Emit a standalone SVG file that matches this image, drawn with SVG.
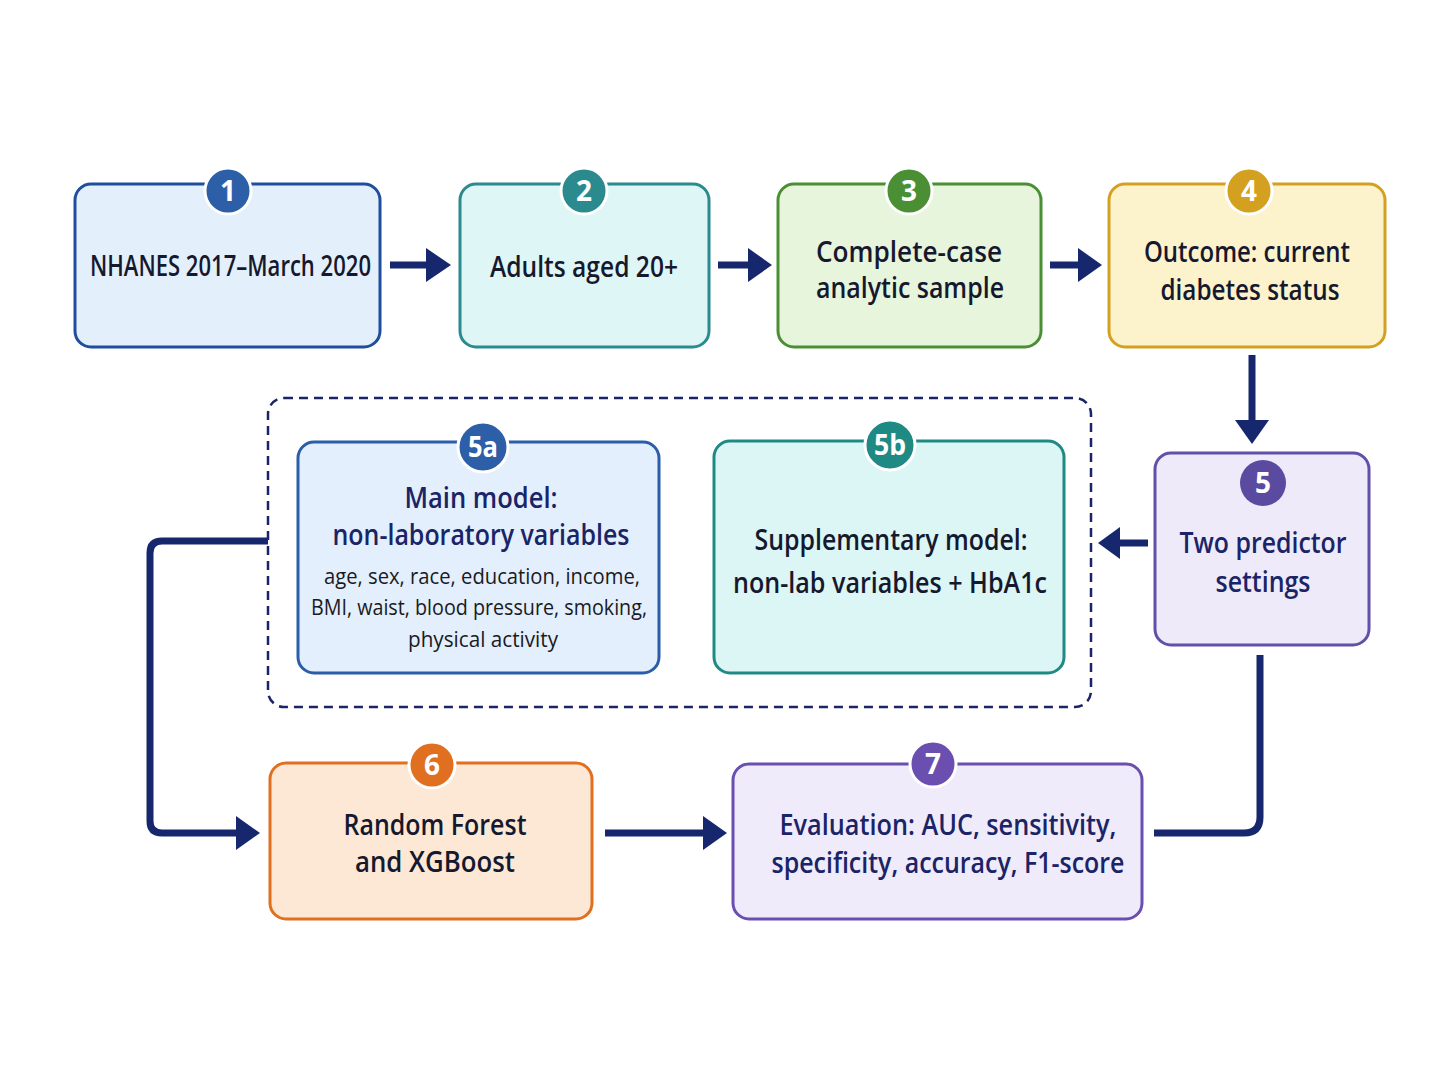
<svg xmlns="http://www.w3.org/2000/svg" width="1448" height="1086" viewBox="0 0 1448 1086">
<defs>
<style>
.t{font-family:"Open Sans","Noto Sans","Liberation Sans",sans-serif;font-size:29px;font-weight:600;text-anchor:middle;fill:#16192e}
.n{fill:#1a2466}
.s{font-family:"Open Sans","Noto Sans","Liberation Sans",sans-serif;font-size:22px;text-anchor:middle;fill:#1a1a22}
.b{font-family:"Open Sans","Noto Sans","Liberation Sans",sans-serif;font-size:28px;font-weight:700;text-anchor:middle;fill:#ffffff}
.box{stroke-width:3}
.badge{stroke:#ffffff;stroke-width:3}
.con{fill:none;stroke:#16276e;stroke-width:7}
.ah{fill:#16276e}
</style>
</defs>
<rect width="1448" height="1086" fill="#ffffff"/>

<g id="connectors">
<line class="con" x1="390" y1="265" x2="428" y2="265"/>
<polygon class="ah" points="426,248 451,265 426,282"/>
<line class="con" x1="718" y1="265" x2="750" y2="265"/>
<polygon class="ah" points="748,248 772,265 748,282"/>
<line class="con" x1="1050" y1="265" x2="1080" y2="265"/>
<polygon class="ah" points="1078,248 1102,265 1078,282"/>
<line class="con" x1="1252" y1="355" x2="1252" y2="422"/>
<polygon class="ah" points="1235,420 1252,444 1269,420"/>
<line class="con" x1="1148" y1="543" x2="1118" y2="543"/>
<polygon class="ah" points="1120,527 1098,543 1120,559"/>
<path class="con" d="M268,541 H162 Q150,541 150,553 V821 Q150,833 162,833 H238"/>
<polygon class="ah" points="236,816 260,833 236,850"/>
<line class="con" x1="605" y1="833" x2="705" y2="833"/>
<polygon class="ah" points="703,816 727,833 703,850"/>
<path class="con" d="M1260,655 V817 Q1260,833 1244,833 H1154"/>
<rect x="268" y="398" width="823" height="309" rx="16" fill="none" stroke="#1a2466" stroke-width="2.5" stroke-dasharray="9,6"/>
</g>

<g id="n1">
<rect class="box" x="75" y="184" width="305" height="163" rx="16" fill="#e3f0fc" stroke="#1f4e9c"/>
<circle class="badge" cx="228" cy="191" r="23" fill="#2d5fa8"/>
<text class="b" x="228" y="201">1</text>
<text class="t" x="230.5" y="276" textLength="281" lengthAdjust="spacingAndGlyphs">NHANES 2017–March 2020</text>
</g>
<g id="n2">
<rect class="box" x="460" y="184" width="249" height="163" rx="16" fill="#dff6f6" stroke="#2a8a8e"/>
<circle class="badge" cx="584" cy="191" r="23" fill="#2a8a8e"/>
<text class="b" x="584" y="201">2</text>
<text class="t" x="584" y="277" textLength="188" lengthAdjust="spacingAndGlyphs">Adults aged 20+</text>
</g>
<g id="n3">
<rect class="box" x="778" y="184" width="263" height="163" rx="16" fill="#e6f5dc" stroke="#4a8f34"/>
<circle class="badge" cx="909" cy="191" r="23" fill="#4a8f34"/>
<text class="b" x="909" y="201">3</text>
<text class="t" x="909" y="262" textLength="186" lengthAdjust="spacingAndGlyphs">Complete-case</text>
<text class="t" x="910" y="298" textLength="188" lengthAdjust="spacingAndGlyphs">analytic sample</text>
</g>
<g id="n4">
<rect class="box" x="1109" y="184" width="276" height="163" rx="16" fill="#fcf2cc" stroke="#d4a020"/>
<circle class="badge" cx="1249" cy="191" r="23" fill="#d4a020"/>
<text class="b" x="1249" y="201">4</text>
<text class="t" x="1247" y="262" textLength="206" lengthAdjust="spacingAndGlyphs">Outcome: current</text>
<text class="t" x="1250" y="300" textLength="179" lengthAdjust="spacingAndGlyphs">diabetes status</text>
</g>
<g id="n5">
<rect class="box" x="1155" y="453" width="214" height="192" rx="16" fill="#eeeaf9" stroke="#6050a8"/>
<circle cx="1263" cy="483" r="23" fill="#5a4aa0"/>
<text class="b" x="1263" y="493">5</text>
<text class="t n" x="1263" y="553" textLength="167" lengthAdjust="spacingAndGlyphs">Two predictor</text>
<text class="t n" x="1263" y="592" textLength="95" lengthAdjust="spacingAndGlyphs">settings</text>
</g>
<g id="n5a">
<rect class="box" x="298" y="442" width="361" height="231" rx="16" fill="#e3effc" stroke="#2a5ea8"/>
<circle class="badge" cx="483" cy="447" r="25" fill="#2d5fa8"/>
<text class="b" x="483" y="457" textLength="30" lengthAdjust="spacingAndGlyphs">5a</text>
<text class="t n" x="481" y="508" textLength="153" lengthAdjust="spacingAndGlyphs">Main model:</text>
<text class="t n" x="481" y="545" textLength="297" lengthAdjust="spacingAndGlyphs">non-laboratory variables</text>
<text class="s" x="482" y="584" textLength="316" lengthAdjust="spacingAndGlyphs">age, sex, race, education, income,</text>
<text class="s" x="479" y="615" textLength="336" lengthAdjust="spacingAndGlyphs">BMI, waist, blood pressure, smoking,</text>
<text class="s" x="483" y="647" textLength="150" lengthAdjust="spacingAndGlyphs">physical activity</text>
</g>
<g id="n5b">
<rect class="box" x="714" y="441" width="350" height="232" rx="16" fill="#dcf5f5" stroke="#1f8a84"/>
<circle class="badge" cx="890" cy="445" r="25" fill="#1f8a84"/>
<text class="b" x="890" y="455" textLength="32" lengthAdjust="spacingAndGlyphs">5b</text>
<text class="t" x="891" y="550" textLength="273" lengthAdjust="spacingAndGlyphs">Supplementary model:</text>
<text class="t" x="890" y="593" textLength="314" lengthAdjust="spacingAndGlyphs">non-lab variables + HbA1c</text>
</g>
<g id="n6">
<rect class="box" x="270" y="763" width="322" height="156" rx="16" fill="#fde8d6" stroke="#e07020"/>
<circle class="badge" cx="432" cy="765" r="23" fill="#e07020"/>
<text class="b" x="432" y="775">6</text>
<text class="t" x="435" y="835" textLength="183" lengthAdjust="spacingAndGlyphs">Random Forest</text>
<text class="t" x="435" y="872" textLength="160" lengthAdjust="spacingAndGlyphs">and XGBoost</text>
</g>
<g id="n7">
<rect class="box" x="733" y="764" width="409" height="155" rx="16" fill="#efebfa" stroke="#6a4fb0"/>
<circle class="badge" cx="933" cy="764" r="23" fill="#6a4fb0"/>
<text class="b" x="933" y="774">7</text>
<text class="t n" x="948" y="835" textLength="337" lengthAdjust="spacingAndGlyphs">Evaluation:  AUC, sensitivity,</text>
<text class="t n" x="948" y="873" textLength="353" lengthAdjust="spacingAndGlyphs">specificity, accuracy, F1-score</text>
</g>
</svg>
